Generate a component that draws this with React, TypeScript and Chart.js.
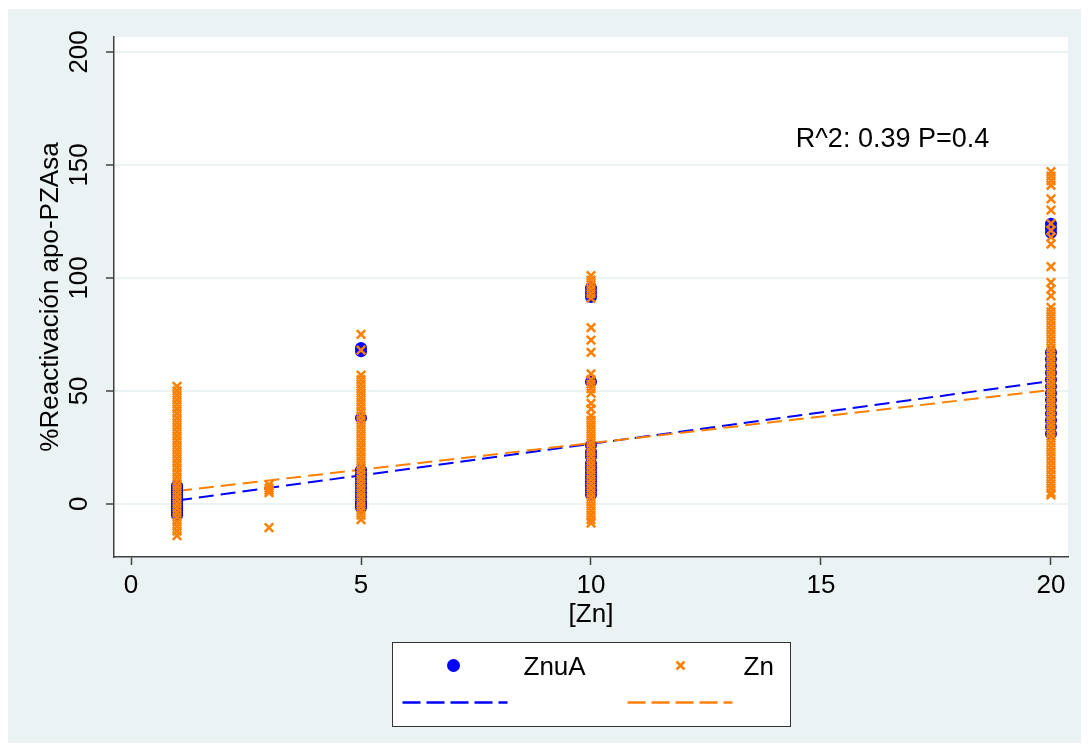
import { useEffect, useRef } from 'react';
import { Chart, registerables } from 'chart.js';

Chart.register(...registerables);

const FONT = '"Liberation Sans", Arial, Helvetica, sans-serif';
const BG = '#EAF2F3';
const AXIS = '#404040';
const BLUE = '#0000FF';
const ORANGE = '#FF8000';

// ---- data ----
const xTickValues = [0, 5, 10, 15, 20];
const yTickValues = [0, 50, 100, 150, 200];

const znuaAt1 = [8, 7, 6, 5, 4, 3, 2, 1, 0, -1, -2, -3, -4, -5];
const znuaAt5 = [69, 67.5, 38, 15, 13, 11, 9, 7, 5, 3, 1, 0, -1.5];
const znuaAt10 = [95.5, 93.5, 91.5, 54, 26, 23, 21, 18, 16, 14, 12, 10, 8, 6, 4];
const znuaAt20 = [124, 122, 120, 67, 64, 61, 58, 55, 52, 49, 46, 43, 40, 37, 34, 31];

const znAt1 = [52, 50, 48, 46, 44, 42, 40, 38, 36, 34, 32, 30, 28, 26, 24, 22, 20, 18, 16, 14, 12, 10, 8, 6, 4, 2, 0, -2, -4, -6, -8, -10, -12, -14];
const znAt3 = [8.5, 7, 6, 5, -10.5];
const znAt5 = [75, 68, 57, 55, 53, 51, 49, 47, 45, 43, 41, 39, 37, 35, 33, 31, 29, 27, 25, 23, 21, 19, 17, 15, 13, 11, 9, 7, 5, 3, 1, -1, -3, -5, -7];
const znAt10 = [101, 99, 97, 95, 93, 91, 78, 72.5, 67, 57.5, 55, 53, 51, 49, 44.5, 42, 39, 37, 35, 33, 31, 29, 27, 25, 23, 21, 19, 17, 15, 13, 11, 9, 7, 5, 3, 1, -1, -3, -5, -7, -8.5];
const znAt20 = [147, 145, 143, 141, 135, 130, 124, 121, 118, 115, 105, 98, 95, 92, 87, 85, 83, 81, 79, 77, 75, 73, 71, 69, 67, 65, 63, 61, 59, 57, 55, 53, 51, 49, 47, 45, 43, 41, 39, 37, 35, 33, 31, 29, 27, 25, 23, 21, 19, 17, 15, 13, 11, 9, 7, 5, 4];

const fitX = [1, 20];
const znuaFitY = [1.5, 54.4];
const znFitY = [5.7, 50.4];

const annotationText = 'R^2: 0.39 P=0.4';
const annotationAt = { x: 14.45, y: 158 };

const seriesNames = ['ZnuA', 'Zn'];

const pts = (x: number, ys: number[]) => ys.map((y) => ({ x, y }));

export default function App() {
  const ref = useRef<HTMLCanvasElement>(null);

  useEffect(() => {
    const canvas = ref.current!;

    const bgPlugin = {
      id: 'bgPlugin',
      beforeDraw(chart: any) {
        const { ctx, chartArea: a, width, height } = chart;
        ctx.save();
        ctx.fillStyle = BG;
        ctx.fillRect(0, 0, width, height);
        ctx.fillStyle = '#ffffff';
        ctx.fillRect(a.left, a.top, a.right - a.left, a.bottom - a.top);
        ctx.restore();
      },
    };

    const overlayPlugin = {
      id: 'overlayPlugin',
      afterDraw(chart: any) {
        const { ctx, chartArea: a, scales } = chart;
        ctx.save();
        // y tick labels (rotated)
        ctx.fillStyle = '#000';
        ctx.font = `26px ${FONT}`;
        ctx.textAlign = 'center';
        ctx.textBaseline = 'middle';
        for (const v of yTickValues) {
          const py = scales.y.getPixelForValue(v);
          ctx.save();
          ctx.translate(a.left - 34, py);
          ctx.rotate(-Math.PI / 2);
          ctx.fillText(String(v), 0, 0);
          ctx.restore();
        }
        // annotation
        ctx.font = `27px ${FONT}`;
        ctx.textAlign = 'left';
        ctx.textBaseline = 'alphabetic';
        ctx.fillText(
          annotationText,
          scales.x.getPixelForValue(annotationAt.x),
          scales.y.getPixelForValue(annotationAt.y)
        );
        // legend
        const bw = 398;
        const bh = 84;
        const bx = Math.round((a.left + a.right) / 2 - bw / 2) + 0.5;
        const by = Math.round(a.bottom + 85) + 0.5;
        ctx.fillStyle = '#ffffff';
        ctx.fillRect(bx, by, bw, bh);
        ctx.strokeStyle = '#333';
        ctx.lineWidth = 1;
        ctx.strokeRect(bx, by, bw, bh);
        const rowY = by + 23;
        const lineY = by + 60;
        // ZnuA marker
        ctx.fillStyle = BLUE;
        ctx.beginPath();
        ctx.arc(bx + 61, rowY, 6.5, 0, Math.PI * 2);
        ctx.fill();
        // Zn marker
        ctx.strokeStyle = ORANGE;
        ctx.lineWidth = 2.5;
        ctx.beginPath();
        ctx.moveTo(bx + 288 - 4, rowY - 4);
        ctx.lineTo(bx + 288 + 4, rowY + 4);
        ctx.moveTo(bx + 288 + 4, rowY - 4);
        ctx.lineTo(bx + 288 - 4, rowY + 4);
        ctx.stroke();
        // texts
        ctx.fillStyle = '#000';
        ctx.font = `26px ${FONT}`;
        ctx.textAlign = 'left';
        ctx.textBaseline = 'middle';
        ctx.fillText(seriesNames[0], bx + 131, rowY + 2);
        ctx.fillText(seriesNames[1], bx + 351, rowY + 2);
        // dashed lines
        ctx.lineWidth = 2.5;
        ctx.setLineDash([18, 6]);
        ctx.strokeStyle = BLUE;
        ctx.beginPath();
        ctx.moveTo(bx + 10, lineY);
        ctx.lineTo(bx + 115, lineY);
        ctx.stroke();
        ctx.strokeStyle = ORANGE;
        ctx.beginPath();
        ctx.moveTo(bx + 235, lineY);
        ctx.lineTo(bx + 340, lineY);
        ctx.stroke();
        ctx.restore();
      },
    };

    const scatterCommon = {
      type: 'scatter' as const,
      showLine: false,
    };

    const chart = new Chart(canvas, {
      type: 'scatter',
      data: {
        datasets: [
          {
            ...scatterCommon,
            label: seriesNames[1],
            order: 1,
            data: [
              ...pts(1, znAt1),
              ...pts(3, znAt3),
              ...pts(5, znAt5),
              ...pts(10, znAt10),
              ...pts(20, znAt20),
            ],
            pointStyle: 'crossRot',
            pointRadius: 6,
            borderColor: ORANGE,
            backgroundColor: ORANGE,
            borderWidth: 2.5,
          },
          {
            ...scatterCommon,
            label: seriesNames[0],
            order: 2,
            data: [...pts(1, znuaAt1), ...pts(5, znuaAt5), ...pts(10, znuaAt10), ...pts(20, znuaAt20)],
            pointStyle: 'circle',
            pointRadius: 6,
            borderWidth: 0,
            borderColor: BLUE,
            backgroundColor: BLUE,
          },
          {
            type: 'line',
            label: 'Zn fit',
            order: 3,
            data: fitX.map((x, i) => ({ x, y: znFitY[i] })),
            borderColor: ORANGE,
            borderWidth: 2,
            borderDash: [15, 7],
            pointRadius: 0,
            fill: false,
          },
          {
            type: 'line',
            label: 'ZnuA fit',
            order: 4,
            data: fitX.map((x, i) => ({ x, y: znuaFitY[i] })),
            borderColor: BLUE,
            borderWidth: 2,
            borderDash: [15, 7],
            pointRadius: 0,
            fill: false,
          },
        ] as any,
      },
      options: {
        responsive: false,
        animation: false,
        events: [],
        layout: { padding: { left: 0, right: 14, top: 28, bottom: 107 } },
        plugins: {
          legend: { display: false },
          tooltip: { enabled: false },
        },
        scales: {
          x: {
            type: 'linear',
            min: -0.37,
            max: 20.37,
            afterBuildTicks: (s: any) => {
              s.ticks = xTickValues.map((v) => ({ value: v }));
            },
            afterFit: (s: any) => {
              s.height = 80;
            },
            ticks: {
              font: { family: FONT, size: 26 },
              color: '#000',
              padding: 5,
              maxRotation: 0,
              minRotation: 0,
            },
            grid: {
              drawOnChartArea: false,
              drawTicks: true,
              tickLength: 8,
              tickColor: AXIS,
              tickWidth: 1.5,
            },
            border: { display: true, color: AXIS, width: 1.5 },
            title: {
              display: true,
              text: '[Zn]',
              color: '#000',
              font: { family: FONT, size: 26 },
              padding: { top: 0, bottom: 7 },
            },
          },
          y: {
            type: 'linear',
            min: -23.5,
            max: 206.6,
            afterBuildTicks: (s: any) => {
              s.ticks = yTickValues.map((v) => ({ value: v }));
            },
            afterFit: (s: any) => {
              s.width = 108;
            },
            ticks: { display: false },
            grid: {
              color: BG,
              lineWidth: 2,
              drawTicks: true,
              tickLength: 8,
              tickColor: AXIS,
              tickWidth: 1.5,
            },
            border: { display: true, color: AXIS, width: 1.5 },
            title: {
              display: true,
              text: '%Reactivación apo-PZAsa',
              color: '#000',
              font: { family: FONT, size: 26 },
              padding: { top: 29, bottom: 0 },
            },
          },
        },
      },
      plugins: [bgPlugin, overlayPlugin],
    } as any);

    return () => chart.destroy();
  }, []);

  return (
    <div style={{ position: 'relative', left: -2, top: 1, width: 1076, height: 735 }}>
      <canvas ref={ref} width={1076} height={735} style={{ display: 'block' }} />
    </div>
  );
}
